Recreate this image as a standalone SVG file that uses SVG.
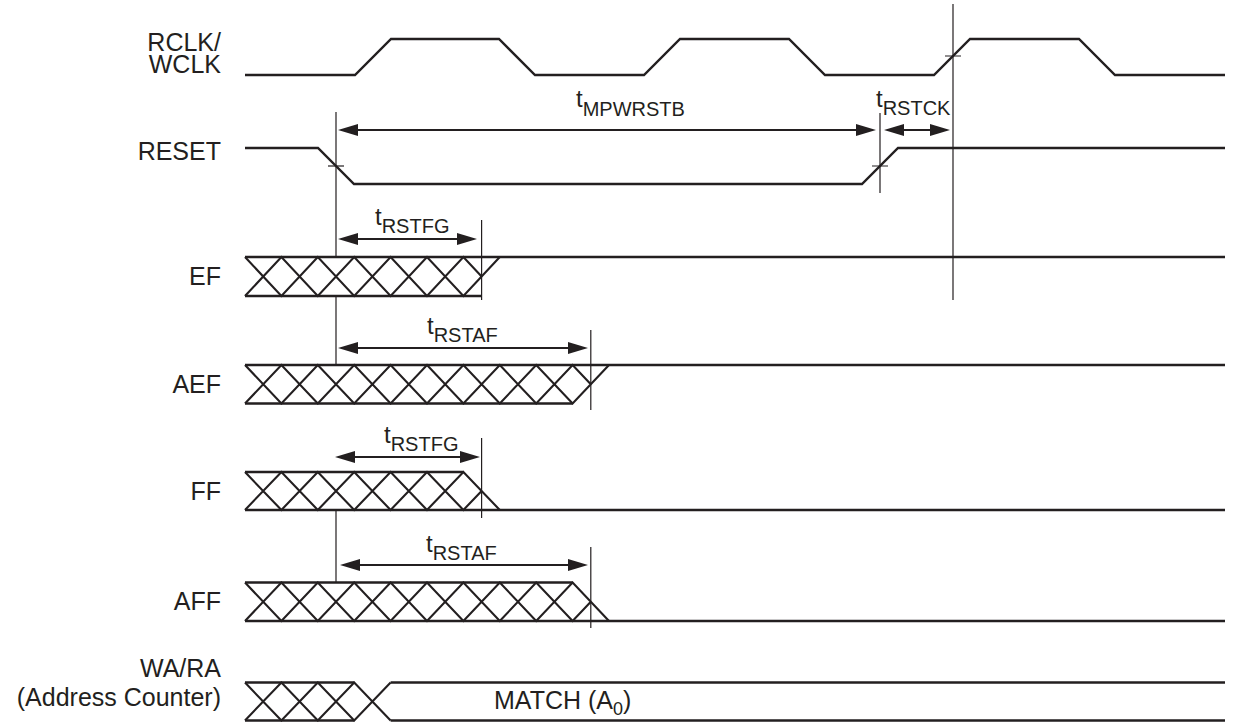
<svg xmlns="http://www.w3.org/2000/svg" width="1251" height="723" viewBox="0 0 1251 723">
<style>
.wave{fill:none;stroke:#231f20;stroke-width:2.4;stroke-linejoin:miter}
.hatch{fill:none;stroke:#231f20;stroke-width:2.1}
.mark{fill:none;stroke:#231f20;stroke-width:1.2}
.arr{fill:none;stroke:#231f20;stroke-width:2}
.lbl{font-family:"Liberation Sans",Arial,Helvetica,sans-serif;font-size:25px;fill:#231f20;text-anchor:end}
.t{font-family:"Liberation Sans",Arial,Helvetica,sans-serif;font-size:24px;fill:#231f20}
.sub{font-size:20px}
.txt{font-family:"Liberation Sans",Arial,Helvetica,sans-serif;font-size:25px;fill:#231f20}
</style>
<defs>
<marker id="ah" viewBox="0 0 20 12" refX="10" refY="6" markerWidth="20" markerHeight="12" markerUnits="userSpaceOnUse" orient="auto-start-reverse">
<path d="M0,0 L20,6 L0,12 z" fill="#231f20"/>
</marker>
</defs>
<rect width="1251" height="723" fill="#ffffff"/>

<g id="clk">
<text class="lbl" x="221" y="51">RCLK/<tspan x="221" dy="22">WCLK</tspan></text>
<path class="wave" d="M245,75 L355,75 L391,39 L499,39 L535,75 L644,75 L680,39 L789,39 L825,75 L934,75 L970,39 L1079,39 L1115,75 L1225,75"/>
</g>

<g id="reset">
<text class="lbl" x="221" y="160">RESET</text>
<path class="wave" d="M245,148 L318,148 L354,184 L862,184 L898,148 L1225,148"/>
</g>

<g id="ef">
<text class="lbl" x="221" y="285">EF</text>
<path class="wave" d="M245,257 L1225,257 M245,296 L481.6,296"/>
<path class="hatch" d="M245,257 L281.4,296 L317.8,257 L354.2,296 L390.6,257 L427,296 L463.4,257 L481.6,276.5 M245,296 L281.4,257 L317.8,296 L354.2,257 L390.6,296 L427,257 L463.4,296 L499.8,257"/>
</g>

<g id="aef">
<text class="lbl" x="221" y="393">AEF</text>
<path class="wave" d="M245,365 L1225,365 M245,403.5 L572.6,403.5"/>
<path class="hatch" d="M245,365 L281.4,403.5 L317.8,365 L354.2,403.5 L390.6,365 L427,403.5 L463.4,365 L499.8,403.5 L536.2,365 L572.6,403.5 L609,365 M245,403.5 L281.4,365 L317.8,403.5 L354.2,365 L390.6,403.5 L427,365 L463.4,403.5 L499.8,365 L536.2,403.5 L572.6,365 L590.8,384.25"/>
</g>

<g id="ff">
<text class="lbl" x="221" y="500">FF</text>
<path class="wave" d="M245,472 L463.4,472 M245,510 L1225,510"/>
<path class="hatch" d="M245,472 L281.4,510 L317.8,472 L354.2,510 L390.6,472 L427,510 L463.4,472 L499.8,510 M245,510 L281.4,472 L317.8,510 L354.2,472 L390.6,510 L427,472 L463.4,510 L481.6,491"/>
</g>

<g id="aff">
<text class="lbl" x="221" y="610">AFF</text>
<path class="wave" d="M245,582.5 L572.6,582.5 M245,621 L1225,621"/>
<path class="hatch" d="M245,582.5 L281.4,621 L317.8,582.5 L354.2,621 L390.6,582.5 L427,621 L463.4,582.5 L499.8,621 L536.2,582.5 L572.6,621 L590.8,601.75 M245,621 L281.4,582.5 L317.8,621 L354.2,582.5 L390.6,621 L427,582.5 L463.4,621 L499.8,582.5 L536.2,621 L572.6,582.5 L609,621"/>
</g>

<g id="wara">
<text class="lbl" x="221" y="677">WA/RA<tspan x="221" dy="29">(Address Counter)</tspan></text>
<path class="wave" d="M245,682.5 L354.2,682.5 M390.6,682.5 L1225,682.5 M245,720.5 L354.2,720.5 M390.6,720.5 L1225,720.5"/>
<path class="hatch" d="M245,682.5 L281.4,720.5 L317.8,682.5 L354.2,720.5 L390.6,682.5 M245,720.5 L281.4,682.5 L317.8,720.5 L354.2,682.5 L390.6,720.5"/>
<text class="txt" x="494" y="709">MATCH (A<tspan font-size="18" dy="6">0</tspan><tspan dy="-6">)</tspan></text>
</g>

<g id="connectors">
<path class="mark" d="M336,112 L336,257 M336,296 L336,365 M336,510 L336,582.5"/>
<path class="mark" d="M328,166 L344,166"/>
<path class="mark" d="M880,113 L880,193 M872,166 L888,166"/>
<path class="mark" d="M953,4 L953,300 M945,56 L961,56"/>
<path class="mark" d="M481.6,220 L481.6,300 M481.6,438 L481.6,518"/>
<path class="mark" d="M590.8,330 L590.8,410 M590.8,547 L590.8,628"/>

<path class="arr" d="M348,130 L866,130" marker-start="url(#ah)" marker-end="url(#ah)"/>
<path class="arr" d="M894,130 L940,130" marker-start="url(#ah)" marker-end="url(#ah)"/>
<path class="arr" d="M348,239 L467,239" marker-start="url(#ah)" marker-end="url(#ah)"/>
<path class="arr" d="M348,348 L578,348" marker-start="url(#ah)" marker-end="url(#ah)"/>
<path class="arr" d="M345,457 L470,457" marker-start="url(#ah)" marker-end="url(#ah)"/>
<path class="arr" d="M350,565 L578,565" marker-start="url(#ah)" marker-end="url(#ah)"/>

<text class="t" x="576" y="107">t<tspan class="sub" dy="9">MPWRSTB</tspan></text>
<text class="t" x="876" y="107">t<tspan class="sub" dy="8">RSTCK</tspan></text>
<text class="t" x="375" y="225">t<tspan class="sub" dy="8">RSTFG</tspan></text>
<text class="t" x="427" y="334">t<tspan class="sub" dy="8">RSTAF</tspan></text>
<text class="t" x="384" y="443">t<tspan class="sub" dy="8">RSTFG</tspan></text>
<text class="t" x="426" y="552">t<tspan class="sub" dy="8">RSTAF</tspan></text>
</g>
</svg>
